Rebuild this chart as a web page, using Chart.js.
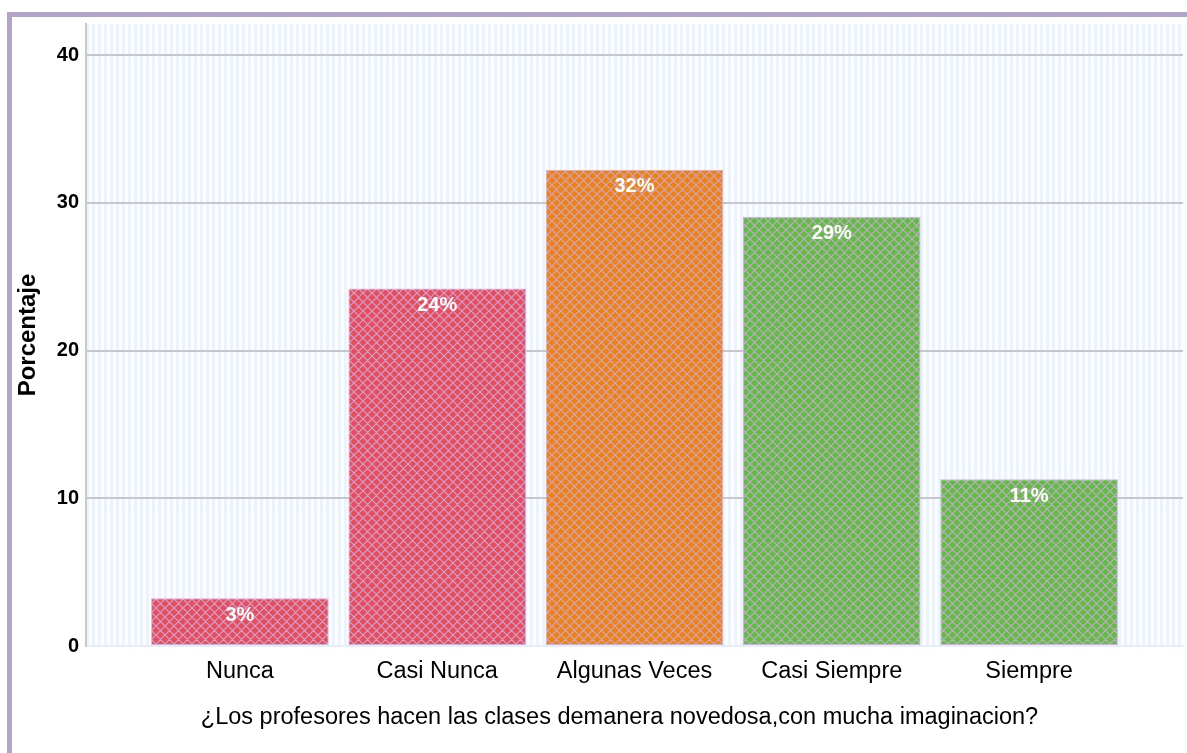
<!DOCTYPE html>
<html>
<head>
<meta charset="utf-8">
<script src="https://cdn.jsdelivr.net/npm/chart.js@4.4.1/dist/chart.umd.min.js"></script>
<style>
  html, body { margin: 0; padding: 0; background: #fff; overflow: hidden; }
  #frame {
    position: absolute; left: 7px; top: 12px;
    width: 1180px; height: 741px;
    border-top: 5px solid #b4a3c9; border-left: 5px solid #b4a3c9;
  }
  #wrap { position: absolute; left: 12px; top: 5px; width: 1175px; height: 748px; }
</style>
</head>
<body>
<div id="frame"></div>
<div id="wrap"><canvas id="myChart"></canvas></div>
<script>
// --- datos ---
const categories = ['Nunca', 'Casi Nunca', 'Algunas Veces', 'Casi Siempre', 'Siempre'];
const percentages = [3.24, 24.19, 32.23, 29.05, 11.28];
const yTicks = [0, 10, 20, 30, 40];
const barColors = ['#e94d57', '#e94d57', '#f08307', '#5dbf3a', '#5dbf3a'];

const xTitle = '¿Los profesores hacen las clases demanera novedosa,con mucha imaginacion?';
const yTitle = 'Porcentaje';

// rombos (cross hatch) sobre el color de cada barra
function hatch(color) {
  const s = 9;
  const c = document.createElement('canvas');
  c.width = s; c.height = s;
  const g = c.getContext('2d');
  g.fillStyle = color;
  g.fillRect(0, 0, s, s);
  g.strokeStyle = '#c9a3d9';
  g.lineWidth = 1.2;
  g.beginPath();
  for (let k = -1; k <= 1; k++) {
    g.moveTo(k * s, 0); g.lineTo(k * s + s, s);
    g.moveTo(k * s + s, 0); g.lineTo(k * s, s);
  }
  g.stroke();
  return document.getElementById('myChart').getContext('2d').createPattern(c, 'repeat');
}

// fondo a rayas verticales
const stripes = {
  id: 'stripes',
  beforeDraw(chart) {
    const { ctx, chartArea: a } = chart;
    ctx.save();
    ctx.fillStyle = '#fbfdff';
    ctx.fillRect(a.left, a.top, a.right - a.left, a.bottom - a.top);
    ctx.fillStyle = '#ebf4fd';
    for (let x = a.left; x < a.right; x += 6) {
      ctx.fillRect(x, a.top, 3, a.bottom - a.top);
    }
    ctx.restore();
  }
};

// etiquetas de porcentaje dentro de las barras + titulo del eje x
const barLabels = {
  id: 'barLabels',
  afterDatasetsDraw(chart) {
    const { ctx } = chart;
    const meta = chart.getDatasetMeta(0);
    ctx.save();
    ctx.fillStyle = '#ffffff';
    ctx.font = 'bold 20px "Liberation Sans", Arial, sans-serif';
    ctx.textAlign = 'center';
    ctx.textBaseline = 'middle';
    meta.data.forEach((bar, i) => {
      ctx.fillText(Math.round(percentages[i]) + '%', bar.x, bar.y + 17);
    });
    ctx.restore();
  },
  afterDraw(chart) {
    const { ctx, chartArea: a } = chart;
    ctx.save();
    ctx.fillStyle = '#000';
    ctx.font = '23.5px "Liberation Sans", Arial, sans-serif';
    ctx.textAlign = 'center';
    ctx.textBaseline = 'middle';
    ctx.fillText(xTitle, (a.left + a.right) / 2 - 15, a.bottom + 72);
    ctx.restore();
  }
};

const ctx = document.getElementById('myChart').getContext('2d');

new Chart(ctx, {
  type: 'bar',
  data: {
    datasets: [{
      data: percentages.map((v, i) => ({ x: i, y: v })),
      backgroundColor: barColors.map(hatch),
      borderColor: '#cfaee6',
      borderWidth: 1,
      borderSkipped: false,
      categoryPercentage: 1,
      barPercentage: 0.9
    }]
  },
  options: {
    responsive: true,
    maintainAspectRatio: false,
    animation: false,
    layout: { padding: { top: 6, right: 4, left: 0, bottom: 0 } },
    plugins: {
      legend: { display: false },
      tooltip: { enabled: false }
    },
    scales: {
      x: {
        type: 'linear',
        offset: false,
        min: -0.78,
        max: 4.78,
        afterBuildTicks: (scale) => { scale.ticks = categories.map((c, i) => ({ value: i })); },
        afterFit: (scale) => { scale.height = 107; },
        grid: { display: false, drawTicks: false },
        border: { color: '#e4edf8', width: 2 },
        ticks: {
          callback: (v) => categories[v],
          color: '#000',
          font: { family: '"Liberation Sans", Arial, sans-serif', size: 23.5 },
          padding: 11,
          maxRotation: 0,
          autoSkip: false
        },
        title: { display: false }
      },
      y: {
        min: 0,
        max: 42.1,
        afterBuildTicks: (scale) => { scale.ticks = yTicks.map(v => ({ value: v })); },
        afterFit: (scale) => { scale.width = 74; },
        grid: {
          color: (c) => (c.tick && c.tick.value === 0) ? 'rgba(0,0,0,0)' : '#c6c6cb',
          lineWidth: 2,
          drawTicks: false
        },
        border: { color: '#c6cad0', width: 2 },
        ticks: {
          color: '#000',
          font: { family: '"Liberation Sans Narrow", "Liberation Sans", Arial, sans-serif', size: 20, weight: 'bold' },
          padding: 7
        },
        title: {
          display: true,
          text: yTitle,
          color: '#000',
          font: { family: '"Liberation Sans", Arial, sans-serif', size: 24, weight: 'bold' },
          padding: { top: 2, bottom: 0 }
        }
      }
    }
  },
  plugins: [stripes, barLabels]
});
</script>
</body>
</html>
